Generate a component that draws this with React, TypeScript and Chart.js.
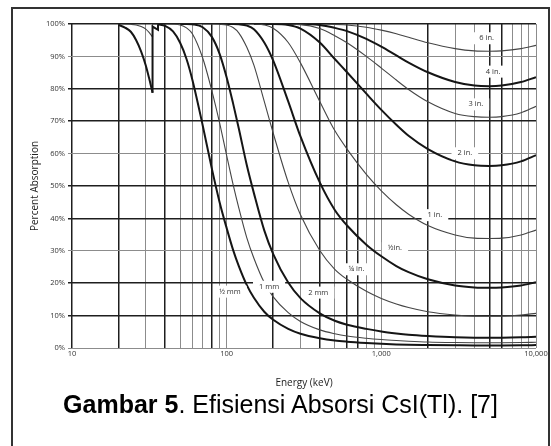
import React, { useEffect, useRef } from 'react';
import { Chart, registerables } from 'chart.js';

Chart.register(...registerables);
Chart.defaults.font.family = '"Open Sans", sans-serif';

// ---- axis ticks ----
const xTickValues = [10, 20, 30, 40, 50, 60, 70, 80, 90, 100, 200, 300, 400, 500, 600, 700, 800, 900, 1000, 2000, 3000, 4000, 5000, 6000, 7000, 8000, 9000, 10000];
const xLabeledValues = [10, 100, 1000, 10000];
const xTickLabels = ['10', '100', '1,000', '10,000'];

// ---- series (energy keV / percent absorption) ----
const halfMmLowEnergy = [20, 22, 24, 26, 28, 30, 31.5, 33.17];
const halfMmLowPct = [99.7, 98.9, 97.6, 95.0, 91.5, 87.2, 83.3, 78.8];
const halfMmEdgeEnergy = [33.17, 33.17, 35.98, 35.98];
const halfMmEdgePct = [78.8, 99.2, 98.2, 99.9];
const halfMmEnergy = [35.98, 40, 45, 50, 55, 60, 70, 80, 90, 100, 110, 120, 135, 150, 175, 200, 250, 300, 400, 500, 600, 800, 1000, 1250, 1500, 2000, 3000, 4000, 5000, 6000, 8000, 10000];
const halfMmPct = [99.9, 99.4, 97.7, 94.2, 89.2, 82.8, 68.7, 55.6, 45.0, 37.0, 30.3, 25.2, 19.4, 15.5, 11.2, 8.7, 5.9, 4.4, 3.0, 2.3, 1.95, 1.55, 1.3, 1.1, 1.0, 0.93, 0.85, 0.81, 0.81, 0.81, 0.84, 0.89];

const oneMmLowEnergy = [20, 24, 26, 28, 30, 31.5, 33.17];
const oneMmLowPct = [100, 99.9, 99.7, 99.2, 98.4, 97.4, 96.0];
const oneMmEdgeEnergy = [33.17, 33.17];
const oneMmEdgePct = [96.0, 100];
const oneMmEnergy = [33.17, 40, 45, 50, 55, 60, 70, 80, 90, 100, 110, 120, 135, 150, 175, 200, 250, 300, 400, 500, 600, 800, 1000, 1250, 1500, 2000, 3000, 4000, 5000, 6000, 8000, 10000];
const oneMmPct = [100, 100, 99.95, 99.7, 98.8, 97.0, 89.5, 79.6, 69.5, 59.4, 50.5, 43.1, 34.0, 27.7, 20.2, 15.8, 10.9, 8.2, 5.6, 4.4, 3.7, 3.0, 2.6, 2.3, 2.1, 1.85, 1.68, 1.62, 1.61, 1.62, 1.68, 1.77];

const twoMmEnergy = [50, 55, 60, 70, 80, 90, 100, 110, 120, 135, 150, 175, 200, 250, 300, 400, 500, 600, 800, 1000, 1250, 1500, 2000, 3000, 4000, 5000, 6000, 8000, 10000];
const twoMmPct = [100, 100, 99.9, 99.0, 96.1, 90.8, 83.5, 75.5, 67.6, 56.4, 47.8, 36.3, 29.0, 20.2, 15.4, 10.7, 8.4, 7.2, 5.9, 5.1, 4.5, 4.1, 3.7, 3.3, 3.2, 3.2, 3.2, 3.3, 3.5];

const quarterInEnergy = [70, 80, 90, 100, 110, 120, 135, 150, 175, 200, 250, 300, 400, 500, 600, 800, 1000, 1250, 1500, 2000, 3000, 4000, 5000, 6000, 8000, 10000];
const quarterInPct = [100, 100, 99.9, 99.7, 98.9, 97.2, 92.8, 87.3, 76.1, 66.3, 51.1, 41.1, 30.1, 24.3, 21.2, 17.5, 15.3, 13.6, 12.5, 11.2, 10.2, 9.85, 9.8, 9.85, 10.2, 10.7];

const halfInEnergy = [90, 100, 110, 120, 135, 150, 175, 200, 250, 300, 400, 500, 600, 800, 1000, 1250, 1500, 2000, 3000, 4000, 5000, 6000, 8000, 10000];
const halfInPct = [100, 100, 100, 99.9, 99.5, 98.4, 94.3, 88.7, 76.1, 65.3, 51.1, 42.6, 37.8, 31.9, 28.3, 25.3, 23.4, 21.2, 19.3, 18.7, 18.6, 18.7, 19.3, 20.3];

const oneInEnergy = [120, 150, 175, 200, 250, 300, 400, 500, 600, 800, 1000, 1250, 1500, 2000, 3000, 4000, 5000, 6000, 8000, 10000];
const oneInPct = [100, 100, 99.7, 98.7, 94.3, 88.0, 76.1, 67.1, 61.4, 53.6, 48.5, 44.2, 41.3, 37.8, 34.9, 33.9, 33.8, 33.9, 34.9, 36.4];

const twoInEnergy = [150, 200, 250, 300, 400, 500, 600, 800, 1000, 1250, 1500, 2000, 3000, 4000, 5000, 6000, 8000, 10000];
const twoInPct = [100, 100, 99.7, 98.6, 94.3, 89.2, 85.1, 78.5, 73.5, 68.9, 65.5, 61.4, 57.6, 56.4, 56.2, 56.4, 57.6, 59.5];

const threeInEnergy = [200, 300, 400, 500, 600, 800, 1000, 1250, 1500, 2000, 3000, 4000, 5000, 6000, 8000, 10000];
const threeInPct = [100, 99.8, 98.6, 96.4, 94.2, 90.0, 86.4, 82.7, 79.8, 76.0, 72.4, 71.4, 71.2, 71.4, 72.6, 74.6];

const fourInEnergy = [250, 300, 400, 500, 600, 800, 1000, 1250, 1500, 2000, 3000, 4000, 5000, 6000, 8000, 10000];
const fourInPct = [100, 100, 99.7, 98.8, 97.8, 95.4, 93.0, 90.3, 88.1, 85.1, 82.1, 81.0, 80.8, 81.0, 82.1, 83.6];

const sixInEnergy = [400, 600, 800, 1000, 1250, 1500, 2000, 3000, 4000, 5000, 6000, 8000, 10000];
const sixInPct = [100, 99.7, 99.0, 98.1, 97.0, 95.9, 94.2, 92.4, 91.7, 91.6, 91.7, 92.4, 93.4];

// ---- curve labels ----
const curveLabels = ['½ mm', '1 mm', '2 mm', '¼ in.', '½in.', '1 in.', '2 in.', '3 in.', '4 in.', '6 in.'];
const labelEnergy = [105, 188, 391, 692, 1225, 2221, 3467, 4089, 5289, 4800];
const labelPercent = [17.4, 18.9, 17.1, 24.3, 30.8, 41.0, 60.1, 75.2, 85.3, 95.6];

// ---- styles ----
const THICK = { borderColor: '#151515', borderWidth: 2 };
const THIN = { borderColor: '#454545', borderWidth: 1.1 };
const strongX = [10, 20, 40, 80, 200, 400, 600, 700, 2000, 5000, 6000];
const strongY = [100, 80, 70, 50, 40, 20, 10];

const toPoints = (e: number[], p: number[]) => e.map((v, i) => ({ x: v, y: p[i] }));

const seriesDefs = [
  { e: halfMmLowEnergy, p: halfMmLowPct, style: THICK, straight: false },
  { e: halfMmEdgeEnergy, p: halfMmEdgePct, style: THICK, straight: true },
  { e: halfMmEnergy, p: halfMmPct, style: THICK, straight: false },
  { e: oneMmLowEnergy, p: oneMmLowPct, style: THIN, straight: false },
  { e: oneMmEdgeEnergy, p: oneMmEdgePct, style: THIN, straight: true },
  { e: oneMmEnergy, p: oneMmPct, style: THIN, straight: false },
  { e: twoMmEnergy, p: twoMmPct, style: THICK, straight: false },
  { e: quarterInEnergy, p: quarterInPct, style: THIN, straight: false },
  { e: halfInEnergy, p: halfInPct, style: THICK, straight: false },
  { e: oneInEnergy, p: oneInPct, style: THIN, straight: false },
  { e: twoInEnergy, p: twoInPct, style: THICK, straight: false },
  { e: threeInEnergy, p: threeInPct, style: THIN, straight: false },
  { e: fourInEnergy, p: fourInPct, style: THICK, straight: false },
  { e: sixInEnergy, p: sixInPct, style: THIN, straight: false },
];

const curveLabelPlugin = {
  id: 'curveLabels',
  afterDatasetsDraw(chart: any) {
    const { ctx, scales } = chart;
    const x = scales.x;
    const y = scales.y;
    ctx.save();
    ctx.font = '7.5px "Open Sans", sans-serif';
    ctx.textAlign = 'center';
    ctx.textBaseline = 'middle';
    curveLabels.forEach((t, i) => {
      const px = x.getPixelForValue(labelEnergy[i]);
      const py = y.getPixelForValue(labelPercent[i]);
      const w = ctx.measureText(t).width + 12;
      const h = 12;
      ctx.fillStyle = '#ffffff';
      ctx.fillRect(px - w / 2, py - h / 2, w, h);
      ctx.fillStyle = '#333333';
      ctx.fillText(t, px, py);
    });
    ctx.restore();
  },
};

export default function App() {
  const canvasRef = useRef<HTMLCanvasElement | null>(null);

  useEffect(() => {
    if (!canvasRef.current) return;
    const datasets = seriesDefs.map((s) => ({
      data: toPoints(s.e, s.p),
      borderColor: s.style.borderColor,
      borderWidth: s.style.borderWidth,
      pointRadius: 0,
      fill: false,
      tension: s.straight ? 0 : 0.4,
      cubicInterpolationMode: s.straight ? 'default' : 'monotone',
    }));
    const chart = new Chart(canvasRef.current, {
      type: 'line',
      data: { datasets: datasets as any },
      plugins: [curveLabelPlugin],
      options: {
        responsive: false,
        animation: false,
        events: [],
        layout: { padding: { top: 24, right: 15, left: 0, bottom: 0 } },
        plugins: { legend: { display: false }, tooltip: { enabled: false } },
        elements: { point: { radius: 0 } },
        scales: {
          x: {
            type: 'logarithmic',
            min: 10,
            max: 10000,
            afterBuildTicks: (s: any) => {
              s.ticks = xTickValues.map((v) => ({ value: v }));
            },
            afterFit: (s: any) => {
              s.height = 52;
            },
            ticks: {
              autoSkip: false,
              maxRotation: 0,
              padding: 1,
              color: '#333',
              font: { size: 7.5 },
              callback: (v: any) => {
                const i = xLabeledValues.indexOf(Number(v));
                return i >= 0 ? xTickLabels[i] : '';
              },
            },
            grid: {
              drawTicks: false,
              color: (c: any) => (strongX.includes(c.tick?.value) ? '#1e1e1e' : '#8c8c8c'),
              lineWidth: (c: any) => (strongX.includes(c.tick?.value) ? 1.5 : 1),
            },
            border: { display: false },
            title: {
              display: true,
              text: 'Energy (keV)',
              color: '#222',
              font: { size: 10 },
              padding: { top: 0, bottom: 11 },
            },
          },
          y: {
            min: 0,
            max: 100,
            afterFit: (s: any) => {
              s.width = 72;
            },
            ticks: {
              stepSize: 10,
              padding: 3,
              color: '#333',
              font: { size: 7.5 },
              callback: (v: any) => v + '%',
            },
            grid: {
              drawTicks: true,
              tickLength: 4,
              color: (c: any) => (strongY.includes(c.tick?.value) ? '#1e1e1e' : '#8c8c8c'),
              lineWidth: (c: any) => (strongY.includes(c.tick?.value) ? 1.5 : 1),
            },
            border: { display: false },
            title: {
              display: true,
              text: 'Percent Absorption',
              color: '#222',
              font: { size: 10 },
              padding: { top: 29, bottom: 0 },
            },
          },
        },
      } as any,
    });
    return () => chart.destroy();
  }, []);

  return (
    <div>
      <div
        style={{
          position: 'absolute',
          left: 11,
          top: 7,
          width: 539,
          height: 439,
          boxSizing: 'border-box',
          border: '2px solid #333',
          borderBottom: 'none',
        }}
      />
      <canvas
        ref={canvasRef}
        width={551}
        height={400}
        style={{ position: 'absolute', left: 0, top: 0, width: 551, height: 400 }}
      />
      <div
        style={{
          position: 'absolute',
          left: 11,
          top: 390,
          width: 539,
          textAlign: 'center',
          fontFamily: '"Liberation Sans", Arial, sans-serif',
          fontSize: 25,
          lineHeight: '28px',
          color: '#000',
          whiteSpace: 'nowrap',
        }}
      >
        <b>Gambar 5</b>. Efisiensi Absorsi CsI(Tl). [7]
      </div>
    </div>
  );
}
